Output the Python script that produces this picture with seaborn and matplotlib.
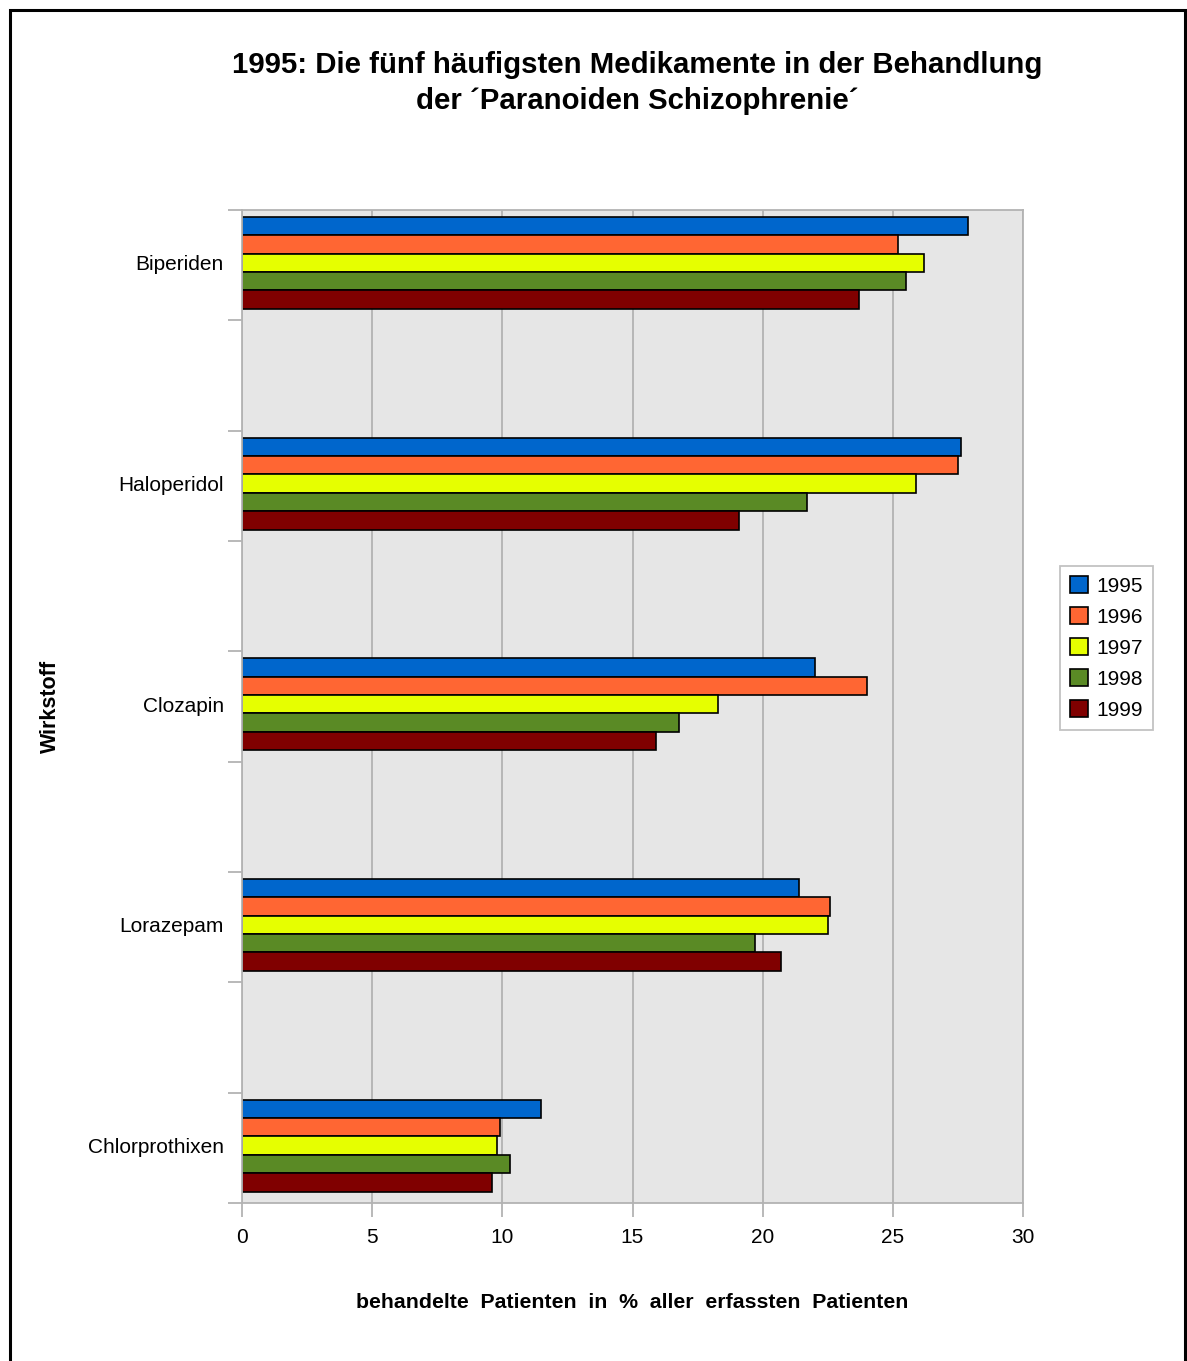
import matplotlib
matplotlib.use("Agg")
import matplotlib.pyplot as plt
import matplotlib.patches as mpatches
import numpy as np
import pandas as pd
import seaborn as sns

# Active substances and yearly share of treated patients (%)
substances = ["Biperiden", "Haloperidol", "Clozapin", "Lorazepam", "Chlorprothixen"]
years = ["1995", "1996", "1997", "1998", "1999"]
share_1995 = [27.9, 27.6, 22.0, 21.4, 11.5]
share_1996 = [25.2, 27.5, 24.0, 22.6, 9.9]
share_1997 = [26.2, 25.9, 18.3, 22.5, 9.8]
share_1998 = [25.5, 21.7, 16.8, 19.7, 10.3]
share_1999 = [23.7, 19.1, 15.9, 20.7, 9.6]

year_colors = ["#0066cc", "#ff6633", "#e6ff00", "#5a8a25", "#800000"]

rows = []
for year, vals in zip(years, [share_1995, share_1996, share_1997, share_1998, share_1999]):
    for sub, v in zip(substances, vals):
        rows.append({"Wirkstoff": sub, "Jahr": year, "Anteil": v})
df = pd.DataFrame(rows)

sns.set_theme(style="white")
plt.rcParams["font.family"] = ["Liberation Sans", "DejaVu Sans"]
plt.rcParams["text.color"] = "black"
plt.rcParams["axes.labelcolor"] = "black"

W, H = 1187, 1361
fig = plt.figure(figsize=(W / 100, H / 100), dpi=100)
ax = fig.add_axes([242 / W, 1 - 1203 / H, (1023 - 242) / W, (1203 - 210) / H])
ax.set_facecolor("#e6e6e6")

sns.barplot(data=df, y="Wirkstoff", x="Anteil", hue="Jahr", order=substances,
            hue_order=years, palette=year_colors, orient="h", width=0.416,
            edgecolor="black", linewidth=1.2, saturation=1, ax=ax, errorbar=None)

ax.set_xlim(0, 30)
ax.set_ylim(4.25, -0.24)
ax.set_xticks([0, 5, 10, 15, 20, 25, 30])
ax.xaxis.grid(True, color="#b3b3b3", linewidth=1.3)
ax.yaxis.grid(False)
ax.set_axisbelow(True)

for s in ax.spines.values():
    s.set_color("#b3b3b3")
    s.set_linewidth(1.3)

ax.tick_params(axis="x", length=10, width=1.3, color="#b3b3b3", labelsize=15,
               labelcolor="black", pad=8, bottom=True)
ax.set_yticks(range(len(substances)))
ax.set_yticklabels(substances)
ax.tick_params(axis="y", which="major", length=0, labelsize=15, pad=13, labelcolor="black")
ax.set_yticks(-0.24 + 0.5 * np.arange(10), minor=True)
ax.tick_params(axis="y", which="minor", length=10, width=1.3, color="#b3b3b3", left=True)

ax.set_xlabel("behandelte  Patienten  in  %  aller  erfassten  Patienten",
              fontsize=15.3, fontweight="bold", labelpad=33, color="black")
ax.set_ylabel("")
fig.text(50 / W, 1 - 706 / H, "Wirkstoff", rotation=90, fontsize=15.5,
         fontweight="bold", ha="center", va="center")

fig.text(637 / W, 1 - 83 / H,
         "1995: Die fünf häufigsten Medikamente in der Behandlung\nder \u00b4Paranoiden Schizophrenie\u00b4",
         ha="center", va="center", fontsize=21.2, fontweight="bold", linespacing=1.32)

leg = ax.legend(loc="upper left", bbox_to_anchor=(1060 / W, 1 - 566 / H),
                bbox_transform=fig.transFigure, frameon=True, fancybox=False,
                fontsize=15, handlelength=0.85, handleheight=0.85, handletextpad=0.4,
                labelspacing=0.55, borderpad=0.5, borderaxespad=0, title=None)
leg.get_frame().set_edgecolor("#b3b3b3")
leg.get_frame().set_linewidth(1.3)
for h in leg.legend_handles:
    h.set_edgecolor("black")
    h.set_linewidth(1.2)

# outer frame around the whole chart
fig.patches.append(mpatches.Rectangle((10 / W, -0.01), (1185 - 10) / W, 1.01 - 10 / H,
                                      transform=fig.transFigure, fill=False,
                                      edgecolor="black", linewidth=2.2))

fig.savefig("out.png", dpi=100)
